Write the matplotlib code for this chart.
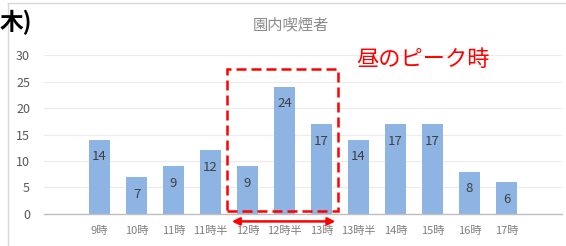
import matplotlib.pyplot as plt
from matplotlib.patches import Rectangle, FancyArrowPatch
from matplotlib.lines import Line2D

plt.rcParams['font.family'] = ['Noto Sans CJK JP', 'DejaVu Sans']

labels = ['9時', '10時', '11時', '11時半', '12時', '12時半', '13時',
          '13時半', '14時', '15時', '16時', '17時']
smokers = [14, 7, 9, 12, 9, 24, 17, 14, 17, 17, 8, 6]

fig = plt.figure(figsize=(5.66, 2.46), dpi=100)
ax = fig.add_axes([0.0777, 0.1301, 0.9153, 0.6463])

x = list(range(len(labels)))
bars = ax.bar(x, smokers, width=0.57, color='#8db4e2', zorder=2)
ax.bar_label(bars, labels=[str(v) for v in smokers], padding=-17,
             fontsize=9.5, color='#404040')

ax.set_xlim(-1.5, 12.5)
ax.set_ylim(0, 30)
ax.set_yticks(range(0, 31, 5))
ax.set_xticks(x)
ax.set_xticklabels(labels, fontsize=8, color='#7f7f7f')
ax.tick_params(axis='y', labelsize=9, labelcolor='#595959', length=0, pad=10)
ax.tick_params(axis='x', length=0, pad=9)
ax.grid(axis='y', color='#ececec', lw=0.8, zorder=0)
for s in ['top', 'right', 'left']:
    ax.spines[s].set_visible(False)
ax.spines['bottom'].set_color('#bfbfbf')
ax.spines['bottom'].set_linewidth(1.0)

# peak highlight
ax.add_patch(Rectangle((3.45, 0.55), 3.0, 26.9, fill=False, ec='#ff0000',
                       lw=1.8, ls=(0, (4, 2)), clip_on=False, zorder=3))
ax.add_patch(FancyArrowPatch((3.5, -1.4), (6.45, -1.4), arrowstyle='<|-|>',
                             mutation_scale=11, color='#ff0000', lw=1.8,
                             clip_on=False, zorder=3))

fig.text(291 / 566, 1 - 25 / 246, '園内喫煙者', fontsize=11, color='#8c8c8c',
         ha='center', va='center')
fig.text(356 / 566, 1 - 60 / 246, '昼のピーク時', fontsize=16, color='#ff0000',
         ha='left', va='center')
fig.text(0, 1 - 22 / 246, '木)', fontsize=17, fontweight='bold',
         color='black', ha='left', va='center')

# chart frame
fig.add_artist(Line2D([8 / 566, 1], [1 - 3 / 246, 1 - 3 / 246], color='#d9d9d9', lw=1))
fig.add_artist(Line2D([8 / 566, 8 / 566], [0, 1 - 3 / 246], color='#d9d9d9', lw=1))

fig.savefig('out.png', dpi=100)
